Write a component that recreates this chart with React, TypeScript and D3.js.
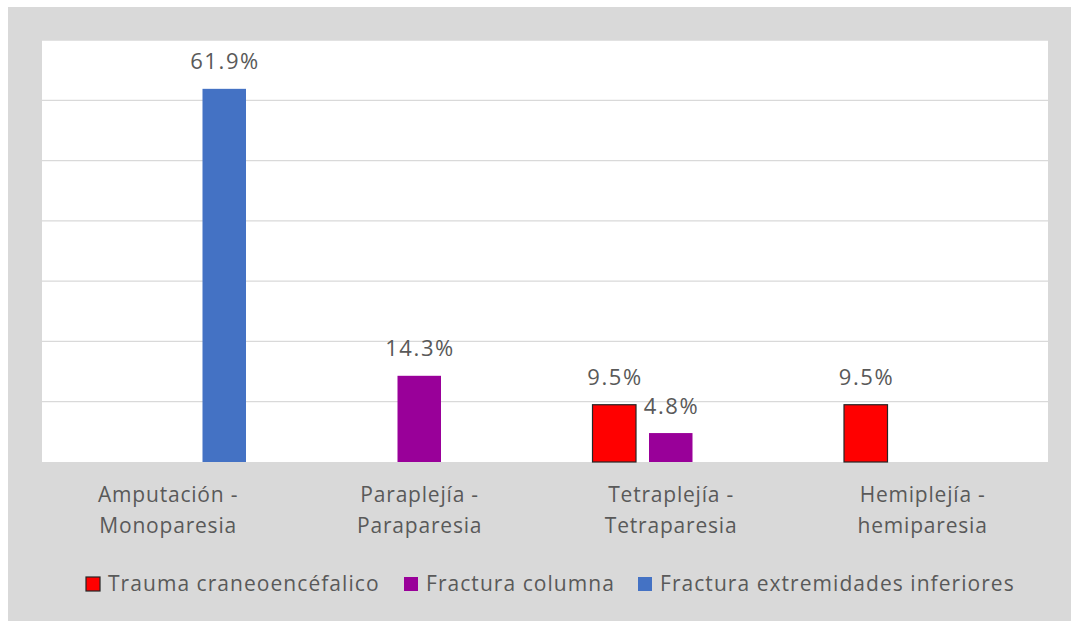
import React from "react";
import * as d3 from "d3";

const categories: string[][] = [
  ["Amputación -", "Monoparesia"],
  ["Paraplejía -", "Paraparesia"],
  ["Tetraplejía -", "Tetraparesia"],
  ["Hemiplejía -", "hemiparesia"],
];
const seriesNames = ["Trauma craneoencéfalico", "Fractura columna", "Fractura extremidades inferiores"];
const traumaValues = [0, 0, 9.5, 9.5];
const columnaValues = [0, 14.3, 4.8, 0];
const extremidadesValues = [61.9, 0, 0, 0];
const seriesValues = [traumaValues, columnaValues, extremidadesValues];
const seriesColors = ["#ff0000", "#990099", "#4472c4"];
const seriesStroke = ["#262626", "none", "none"];
const yTicks = [0, 10, 20, 30, 40, 50, 60, 70];

const W = 1071, H = 621;
const plot = { left: 42, right: 1048, top: 40, bottom: 462 };
const FONT = "'Open Sans', sans-serif";
const TEXT = "#595959";

export default function App() {
  const catKeys = categories.map((c) => c.join(" "));
  const x0 = d3.scaleBand<string>().domain(catKeys).range([plot.left, plot.right]).padding(0);
  const x1 = d3.scaleBand<string>().domain(seriesNames).range([0, 156.5]).paddingInner(0.23).paddingOuter(0);
  const y = d3.scaleLinear().domain([0, 70]).range([plot.bottom, plot.top]);
  const legendX = [86, 404, 638];

  return (
    <svg width={W} height={H} style={{ position: "absolute", left: 0, top: 0, display: "block" }}>
      <rect x={8} y={7} width={W - 8} height={H - 7} fill="#d9d9d9" />
      <rect x={plot.left} y={plot.top} width={plot.right - plot.left} height={plot.bottom - plot.top} fill="#ffffff" />
      {yTicks.slice(1).map((t) => (
        <line key={t} x1={plot.left} x2={plot.right} y1={y(t)} y2={y(t)} stroke="#d9d9d9" strokeWidth={1.3} />
      ))}
      {seriesValues.map((vals, si) =>
        vals.map((v, ci) => {
          if (!v) return null;
          const cx = (x0(catKeys[ci]) as number) + x0.bandwidth() / 2 - 78.25;
          const bx = cx + (x1(seriesNames[si]) as number);
          return (
            <g key={`${si}-${ci}`}>
              <rect
                x={bx}
                y={y(v)}
                width={x1.bandwidth()}
                height={y(0) - y(v)}
                fill={seriesColors[si]}
                stroke={seriesStroke[si]}
                strokeWidth={seriesStroke[si] === "none" ? 0 : 1.2}
              />
              <text
                x={bx + x1.bandwidth() / 2 + 0.8}
                y={y(v) - 19.5}
                textAnchor="middle"
                fontFamily={FONT}
                fontSize={22}
                letterSpacing={1.6}
                fill={TEXT}
              >
                {v.toFixed(1)}%
              </text>
            </g>
          );
        })
      )}
      {categories.map((lines, ci) => (
        <text
          key={ci}
          x={(x0(catKeys[ci]) as number) + x0.bandwidth() / 2}
          y={502}
          textAnchor="middle"
          fontFamily={FONT}
          fontSize={21}
          letterSpacing={0.8}
          fill={TEXT}
        >
          {lines.map((l, li) => (
            <tspan key={li} x={(x0(catKeys[ci]) as number) + x0.bandwidth() / 2 + 0.4} dy={li === 0 ? 0 : 31}>
              {l}
            </tspan>
          ))}
        </text>
      ))}
      {seriesNames.map((s, si) => (
        <g key={s}>
          <rect
            x={legendX[si]}
            y={577}
            width={14}
            height={14}
            fill={seriesColors[si]}
            stroke={seriesStroke[si]}
            strokeWidth={seriesStroke[si] === "none" ? 0 : 1.2}
          />
          <text x={legendX[si] + 22} y={591} fontFamily={FONT} fontSize={21} letterSpacing={1.05} fill={TEXT}>
            {s}
          </text>
        </g>
      ))}
    </svg>
  );
}
